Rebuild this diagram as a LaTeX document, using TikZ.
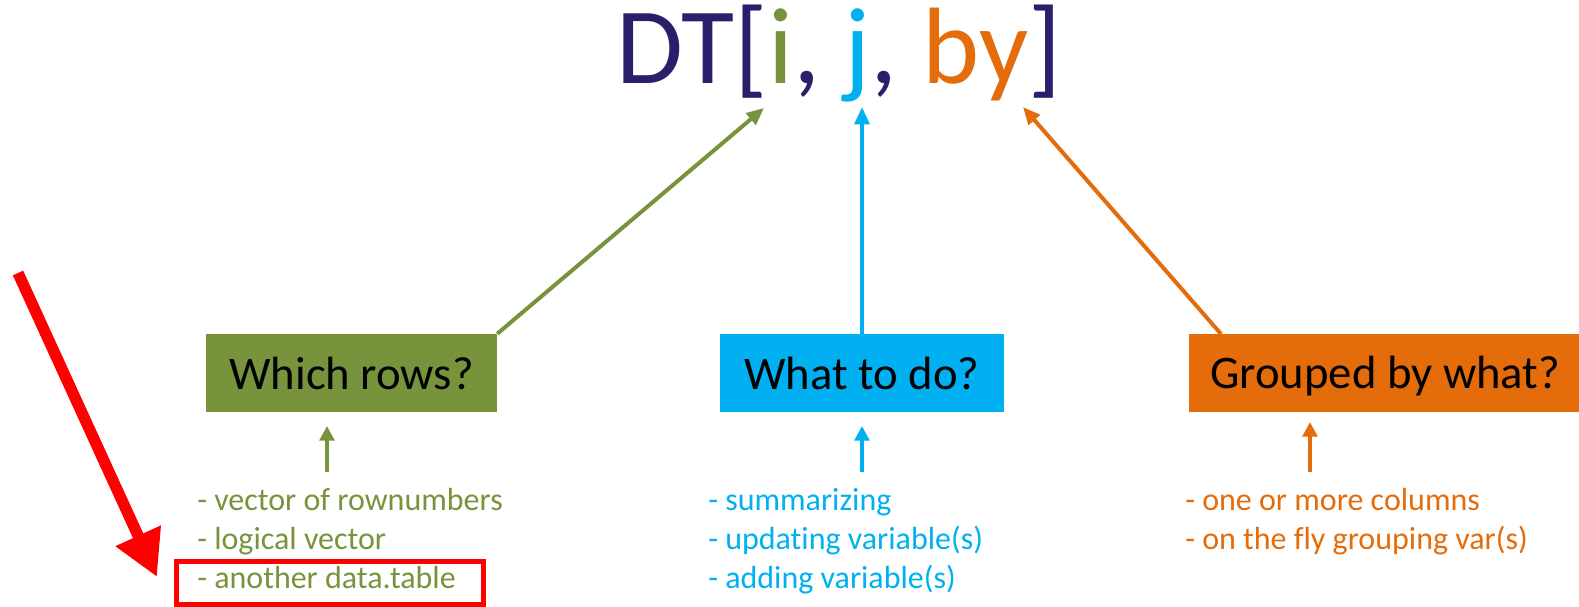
\documentclass[tikz,border=0pt]{standalone}
\usepackage{fontspec}
\setmainfont[Ligatures=NoCommon]{Carlito}
\usetikzlibrary{arrows.meta}
\definecolor{dtblue}{RGB}{42,31,107}
\definecolor{olive}{RGB}{119,147,60}
\definecolor{cyanb}{RGB}{0,176,240}
\definecolor{orng}{RGB}{228,108,10}
\definecolor{redc}{RGB}{255,0,0}
\tikzset{
  qbox/.style={minimum width=#1, minimum height=58.5pt, inner sep=0pt, text=black, font=\fontsize{35}{40}\selectfont},
  listtxt/.style={anchor=base west, inner sep=0pt, font=\fontsize{24}{29}\selectfont, align=left},
  bigarrow/.style={line width=3pt, -{Triangle[length=13pt, width=11pt]}},
  smallarrow/.style={line width=3.6pt, -{Triangle[length=11pt, width=11pt]}},
}
\begin{document}
\begin{tikzpicture}[x=0.75pt, y=-0.75pt]
\useasboundingbox (0,0) rectangle (1579,607);
% title
\node[anchor=base west, inner sep=0pt, text=dtblue, font=\fontsize{81.5}{96}\selectfont] (title) at (616,83)
  {DT[\textcolor{olive}{i}, \textcolor{cyanb}{j}, \textcolor{orng}{by}]};
\coordinate (ti) at (764,108);
\coordinate (tj) at (862,107);
\coordinate (tby) at (1023,107);
% boxes
\node[qbox=218.25pt, fill=olive] (rows) at (351.5,373) {Which rows?};
\node[qbox=213pt, fill=cyanb] (todo) at (862,373) {What to do?};
\fill[orng] (1189,334) rectangle (1579,412);
\node[inner sep=0pt, text=black, font=\fontsize{35}{40}\selectfont, anchor=base west] (group) at (1210,388) {Grouped by what?};
% big arrows
\draw[bigarrow, olive] (rows.north east) -- (ti);
\draw[bigarrow, cyanb] (todo.north) -- (tj);
\draw[bigarrow, orng] (1221,334) -- (tby);
% lists
\node[listtxt, text=olive] (l1) at (197,510) {- vector of rownumbers};
\node[listtxt, text=olive] (l2) at (197,549) {- logical vector};
\node[listtxt, text=olive] (l3) at (197,588) {- another data.table};
\node[listtxt, text=cyanb] (c1) at (708,510) {- summarizing};
\node[listtxt, text=cyanb] (c2) at (708,549) {- updating variable(s)};
\node[listtxt, text=cyanb] (c3) at (708,588) {- adding variable(s)};
\node[listtxt, text=orng] (o1) at (1185,510) {- one or more columns};
\node[listtxt, text=orng] (o2) at (1185,549) {- on the fly grouping var(s)};
% small arrows
\coordinate (sa1) at (327,472);
\coordinate (sa2) at (862,472);
\coordinate (sa3) at (1310,472);
\draw[smallarrow, olive] (sa1) -- (327,426);
\draw[smallarrow, cyanb] (sa2) -- (862,426);
\draw[smallarrow, orng] (sa3) -- (1310,422);
% red highlight
\draw[redc, line width=3.75pt] (176.5,561.5) rectangle (483.5,604);
\coordinate (rs) at (18,273);
\coordinate (re) at (157,577);
\draw[redc, line width=8.5pt, -{Triangle[length=34pt, width=35pt]}] (rs) -- (re);
\end{tikzpicture}
\end{document}
